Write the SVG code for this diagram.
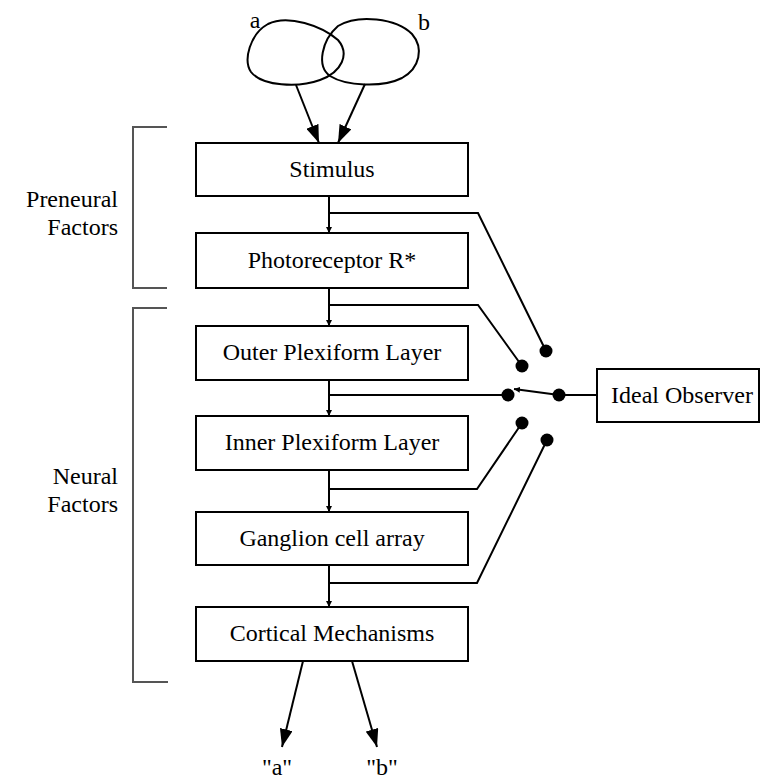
<svg xmlns="http://www.w3.org/2000/svg" width="760" height="779" viewBox="0 0 760 779">
<style>
.box{fill:#fff;stroke:#000;stroke-width:2}
.t{font-family:"Liberation Serif","DejaVu Serif","Times New Roman",serif;font-size:24px;fill:#000}
.c{text-anchor:middle}
.r{text-anchor:end}
.ln{fill:none;stroke:#000;stroke-width:2}
.br{fill:none;stroke:#555;stroke-width:2}
.dot{fill:#000}
</style>
<defs>
<marker id="sm" viewBox="0 0 10 10" refX="10" refY="5" markerWidth="6" markerHeight="6" markerUnits="userSpaceOnUse" orient="auto"><path d="M0,0 L10,5 L0,10 z" fill="#000"/></marker>
<marker id="big" viewBox="0 0 10 10" refX="10" refY="5" markerWidth="18" markerHeight="13" markerUnits="userSpaceOnUse" orient="auto" preserveAspectRatio="none"><path d="M0,0 L10,5 L0,10 z" fill="#000"/></marker>
</defs>

<g id="stimulus-shapes">
<path class="ln" d="M268,24 C288,14 322,26 338,40 C350,54 342,72 320,80 C298,88 262,86 251,72 C243,60 250,34 268,24 Z"/>
<path class="ln" d="M338,26 C358,14 396,18 412,34 C424,48 420,68 402,78 C382,88 346,86 330,76 C316,66 322,40 338,26 Z"/>
<text class="t c" x="255" y="28">a</text>
<text class="t c" x="424" y="30">b</text>
</g>

<g id="brackets">
<path class="br" d="M167,127 H133 V288 H167"/>
<path class="br" d="M167,308 H133 V682 H168"/>
<text class="t r" x="118" y="207">Preneural</text>
<text class="t r" x="118" y="235">Factors</text>
<text class="t r" x="118" y="484">Neural</text>
<text class="t r" x="118" y="512">Factors</text>
</g>

<g id="connectors">
<line class="ln" x1="296" y1="85" x2="319" y2="143" marker-end="url(#big)"/>
<line class="ln" x1="365" y1="84" x2="338" y2="143" marker-end="url(#big)"/>
<line class="ln" x1="329" y1="196" x2="329" y2="233" marker-end="url(#sm)"/>
<line class="ln" x1="329" y1="288" x2="329" y2="326" marker-end="url(#sm)"/>
<line class="ln" x1="329" y1="380" x2="329" y2="416" marker-end="url(#sm)"/>
<line class="ln" x1="329" y1="470" x2="329" y2="512" marker-end="url(#sm)"/>
<line class="ln" x1="329" y1="565" x2="329" y2="607" marker-end="url(#sm)"/>
<polyline class="ln" points="329,213 478,213 546,351"/>
<polyline class="ln" points="329,305 478,305 522,366"/>
<line class="ln" x1="329" y1="395" x2="508" y2="395"/>
<polyline class="ln" points="329,489 477,489 522,423"/>
<polyline class="ln" points="329,583 477,583 547,440"/>
<line class="ln" x1="559" y1="395" x2="514" y2="389" marker-end="url(#sm)"/>
<line class="ln" x1="559" y1="395" x2="597" y2="395"/>
<line class="ln" x1="303" y1="661" x2="282" y2="747" marker-end="url(#big)"/>
<line class="ln" x1="352" y1="661" x2="377" y2="747" marker-end="url(#big)"/>
<circle class="dot" cx="546" cy="351" r="6.5"/>
<circle class="dot" cx="522" cy="366" r="6.5"/>
<circle class="dot" cx="508" cy="395" r="6.5"/>
<circle class="dot" cx="559" cy="395" r="6.5"/>
<circle class="dot" cx="522" cy="423" r="6.5"/>
<circle class="dot" cx="547" cy="440" r="6.5"/>
</g>

<g id="node-stimulus"><rect class="box" x="196" y="143" width="272" height="53"/><text class="t c" x="332" y="177">Stimulus</text></g>
<g id="node-photoreceptor"><rect class="box" x="196" y="233" width="272" height="55"/><text class="t c" x="332" y="268">Photoreceptor R*</text></g>
<g id="node-opl"><rect class="box" x="196" y="326" width="272" height="54"/><text class="t c" x="332" y="360">Outer Plexiform Layer</text></g>
<g id="node-ipl"><rect class="box" x="196" y="416" width="272" height="54"/><text class="t c" x="332" y="450">Inner Plexiform Layer</text></g>
<g id="node-ganglion"><rect class="box" x="196" y="512" width="272" height="53"/><text class="t c" x="332" y="546">Ganglion cell array</text></g>
<g id="node-cortical"><rect class="box" x="196" y="607" width="272" height="54"/><text class="t c" x="332" y="641">Cortical Mechanisms</text></g>
<g id="node-ideal"><rect class="box" x="597" y="369" width="162" height="53"/><text class="t c" x="682" y="403">Ideal Observer</text></g>

<g id="outputs">
<text class="t c" x="277" y="775">"a"</text>
<text class="t c" x="382" y="775">"b"</text>
</g>
</svg>
